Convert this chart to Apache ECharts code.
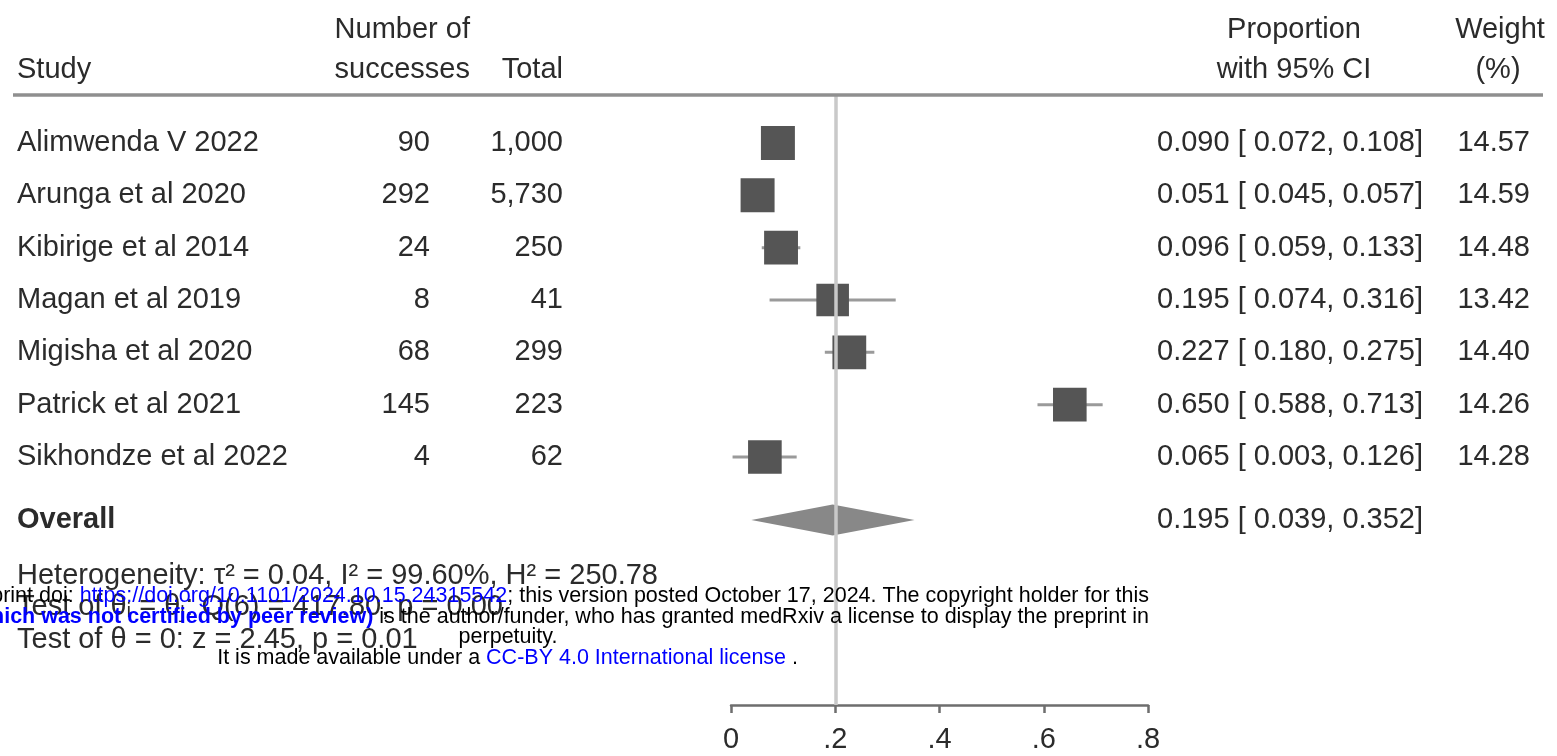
<!DOCTYPE html>
<html><head><meta charset="utf-8">
<script src="https://cdn.jsdelivr.net/npm/echarts/dist/echarts.min.js"></script>
<style>html,body{margin:0;padding:0;background:#fff}#c{width:1557px;height:756px}</style>
</head><body><div id="c"></div>
<script>
// ---- data ----
const studies = ['Alimwenda V 2022','Arunga et al 2020','Kibirige et al 2014','Magan et al 2019','Migisha et al 2020','Patrick et al 2021','Sikhondze et al 2022'];
const successes = [90, 292, 24, 8, 68, 145, 4];
const totals = [1000, 5730, 250, 41, 299, 223, 62];
const estimates = [0.090, 0.051, 0.096, 0.195, 0.227, 0.650, 0.065];
const lowers = [0.072, 0.045, 0.059, 0.074, 0.180, 0.588, 0.003];
const uppers = [0.108, 0.057, 0.133, 0.316, 0.275, 0.713, 0.126];
const weights = [14.57, 14.59, 14.48, 13.42, 14.40, 14.26, 14.28];
const overallLabel = 'Overall';
const overallEstimate = [0.195];
const overallLower = [0.039];
const overallUpper = [0.352];
const xTickLabels = ['0', '.2', '.4', '.6', '.8'];
const statLines = [
  'Heterogeneity: τ² = 0.04, I² = 99.60%, H² = 250.78',
  'Test of θᵢ = θⱼ: Q(6) = 417.80, p = 0.00',
  'Test of θ = 0: z = 2.45, p = 0.01'
];

// ---- layout ----
const FONT = "'Liberation Sans', Arial, Helvetica, sans-serif";
const FS = 29;
const WFS = 21.5;
const TXT = '#2b2b2b';
const ROW0 = 143, ROWH = 52.33;
const toRow = px => (px - ROW0) / ROWH;
const OVERALL_ROW = toRow(520);

const fmt3 = v => v.toFixed(3);
const ciText = (e, l, h) => fmt3(e) + ' [ ' + fmt3(l) + ', ' + fmt3(h) + ']';

const texts = [];
function addText(x, row, text, align, bold) { texts.push({x, row, text, align, bold}); }
addText(470, toRow(30), 'Number of', 'right');
addText(470, toRow(70), 'successes', 'right');
addText(17, toRow(70), 'Study', 'left');
addText(563, toRow(70), 'Total', 'right');
addText(1294, toRow(30), 'Proportion', 'center');
addText(1294, toRow(70), 'with 95% CI', 'center');
addText(1500, toRow(30), 'Weight', 'center');
addText(1498, toRow(70), '(%)', 'center');
studies.forEach((s, i) => {
  addText(17, i, s, 'left');
  addText(430, i, String(successes[i]), 'right');
  addText(563, i, totals[i].toLocaleString('en-US'), 'right');
  addText(1157, i, ciText(estimates[i], lowers[i], uppers[i]), 'left');
  addText(1530, i, weights[i].toFixed(2), 'right');
});
addText(17, OVERALL_ROW, overallLabel, 'left', true);
addText(1157, OVERALL_ROW, ciText(overallEstimate[0], overallLower[0], overallUpper[0]), 'left');
[576, 607, 640].forEach((y, k) => addText(17, toRow(y), statLines[k], 'left'));

const chart = echarts.init(document.getElementById('c'), null, {renderer: 'canvas'});
const G0T = 95, G0B = 705;
const wm = (fill, bold) => ({fontSize: WFS, fontFamily: FONT, fill: fill, fontWeight: bold ? 'bold' : 'normal'});
chart.setOption({
  animation: false,
  backgroundColor: '#fff',
  grid: [
    {left: 731, width: 417, top: G0T, height: G0B - G0T},
    {left: 0, width: 1557, top: 0, height: 756}
  ],
  xAxis: [
    {gridIndex: 0, type: 'value', min: 0, max: 0.8, interval: 0.2, position: 'bottom',
     axisLine: {show: true, onZero: false, lineStyle: {color: '#6e6e6e', width: 2.5}},
     axisTick: {show: true, length: 8, lineStyle: {color: '#6e6e6e', width: 2.5}},
     axisLabel: {fontSize: FS, color: TXT, fontFamily: FONT, margin: 20,
       formatter: (v) => xTickLabels[Math.round(v / 0.2)]},
     splitLine: {show: false}},
    {gridIndex: 1, type: 'value', min: 0, max: 1557, show: false}
  ],
  yAxis: [
    {gridIndex: 0, type: 'value', inverse: true, min: toRow(G0T), max: toRow(G0B), show: false},
    {gridIndex: 1, type: 'value', inverse: true, min: toRow(0), max: toRow(756), show: false}
  ],
  series: [
    {type: 'scatter', xAxisIndex: 0, yAxisIndex: 0, data: [], z: 1, silent: true,
     markLine: {silent: true, symbol: ['none', 'none'], label: {show: false},
       lineStyle: {color: '#c9c9c9', width: 3.5, type: 'solid'},
       data: [{xAxis: overallEstimate[0]}]}},
    {type: 'custom', xAxisIndex: 0, yAxisIndex: 0, z: 2, silent: true,
     data: studies.map((s, i) => [lowers[i], uppers[i], i]),
     encode: {x: [0, 1], y: 2},
     renderItem: (params, api) => {
       const a = api.coord([api.value(0), api.value(2)]);
       const b = api.coord([api.value(1), api.value(2)]);
       return {type: 'line', shape: {x1: a[0], y1: a[1], x2: b[0], y2: b[1]},
         style: {stroke: '#9a9a9a', lineWidth: 3}};
     }},
    {type: 'scatter', xAxisIndex: 0, yAxisIndex: 0, z: 3, silent: true,
     symbol: 'rect',
     symbolSize: (val) => 8.9 * Math.sqrt(val[2]),
     itemStyle: {color: '#555555', opacity: 1},
     data: studies.map((s, i) => [estimates[i], i, weights[i]])},
    {type: 'custom', xAxisIndex: 0, yAxisIndex: 0, z: 3, silent: true,
     data: [[overallLower[0], overallUpper[0], overallEstimate[0], OVERALL_ROW]],
     encode: {x: [0, 1, 2], y: 3},
     renderItem: (params, api) => {
       const l = api.coord([api.value(0), api.value(3)]);
       const h = api.coord([api.value(1), api.value(3)]);
       const e = api.coord([api.value(2), api.value(3)]);
       const hh = 15.5;
       return {type: 'polygon', shape: {points: [[l[0], l[1]], [e[0], e[1] - hh], [h[0], h[1]], [e[0], e[1] + hh]]},
         style: {fill: '#888888'}};
     }},
    {type: 'custom', xAxisIndex: 1, yAxisIndex: 1, z: 5, silent: true, clip: false,
     data: texts.map((t, i) => [t.x, t.row, i]),
     encode: {x: 0, y: 1},
     renderItem: (params, api) => {
       const t = texts[api.value(2)];
       const p = api.coord([api.value(0), api.value(1)]);
       return {type: 'text', x: p[0], y: p[1],
         style: {text: t.text, align: t.align, verticalAlign: 'middle', fill: TXT,
           font: (t.bold ? 'bold ' : '') + FS + 'px ' + FONT}};
     }}
  ],
  graphic: [
    {type: 'line', shape: {x1: 13, y1: 95, x2: 1543, y2: 95}, style: {stroke: '#8f8f8f', lineWidth: 3.5}, z: 10},
    {type: 'text', x: 1149, y: 596, z: 100,
     style: {text: '{n|medRxiv preprint doi: }{l|https://doi.org/10.1101/2024.10.15.24315542}{n|; this version posted October 17, 2024. The copyright holder for this}',
       align: 'right', verticalAlign: 'middle',
       rich: {n: wm('#000'), l: wm('#0000ff')}}},
    {type: 'text', x: 1149, y: 617, z: 100,
     style: {text: '{n|preprint }{b|(which was not certified by peer review)}{n| is the author/funder, who has granted medRxiv a license to display the preprint in}',
       align: 'right', verticalAlign: 'middle',
       rich: {n: wm('#000'), b: wm('#0000ff', true)}}},
    {type: 'text', x: 508, y: 637, z: 100,
     style: {text: 'perpetuity.', align: 'center', verticalAlign: 'middle', font: WFS + 'px ' + FONT, fill: '#000'}},
    {type: 'text', x: 798, y: 658, z: 100,
     style: {text: '{n|It is made available under a }{l|CC-BY 4.0 International license}{n| .}',
       align: 'right', verticalAlign: 'middle',
       rich: {n: wm('#000'), l: wm('#0000ff')}}}
  ]
});
</script>
</body></html>
